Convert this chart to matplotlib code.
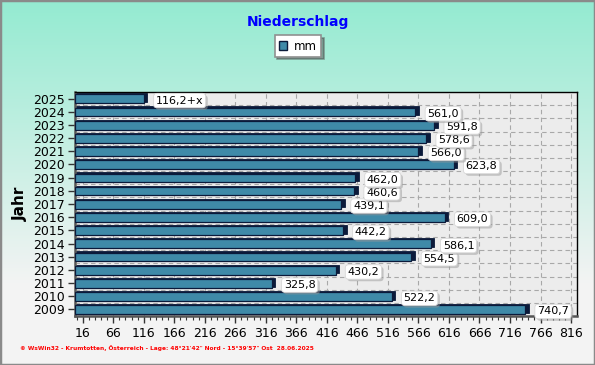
import matplotlib as mpl

mpl.use("Agg")

import matplotlib.patheffects as pe
import matplotlib.pyplot as plt
import numpy as np
from matplotlib.patches import Patch, Rectangle

# data
years = [2009, 2010, 2011, 2012, 2013, 2014, 2015, 2016, 2017,
         2018, 2019, 2020, 2021, 2022, 2023, 2024, 2025]
rain_mm = [740.7, 522.2, 325.8, 430.2, 554.5, 586.1, 442.2, 609.0, 439.1,
           460.6, 462.0, 623.8, 566.0, 578.6, 591.8, 561.0, 116.2]
value_labels = ["740,7", "522,2", "325,8", "430,2", "554,5", "586,1", "442,2",
                "609,0", "439,1", "460,6", "462,0", "623,8", "566,0", "578,6",
                "591,8", "561,0", "116,2+x"]
x_ticks = list(range(16, 817, 50))
footer = ("\u00a9 WsWin32 - Krumtotten, \u00d6sterreich - Lage: 48\u00b021'42\" Nord"
          " - 15\u00b039'57\" Ost  28.06.2025")

BAR = "#3f8aa8"
EDGE = "#0b1a3a"
X0, X1 = 3.4, 826

fig = plt.figure(figsize=(5.95, 3.65), dpi=100)

# background gradient (mint at top -> light grey at bottom)
bg = fig.add_axes([0, 0, 1, 1], zorder=-10)
top = np.array([0.58, 0.92, 0.82])
bot = np.array([0.955, 0.955, 0.955])
t = np.clip(np.linspace(0, 1, 365) / 0.78, 0, 1)[:, None]
grad = top * (1 - t) + bot * t
bg.imshow(grad[:, None, :], aspect="auto", extent=[0, 1, 0, 1])
bg.set_axis_off()
bg.add_patch(Rectangle((0, 0), 1, 1, transform=bg.transAxes, fill=False,
                       edgecolor="#8a8a8a", linewidth=2.5))

ax = fig.add_axes([0.126, 0.134, 0.844, 0.614])
ax.set_facecolor("#ececec")
y = np.arange(len(years))

# grid
for xv in x_ticks:
    ax.axvline(xv, color="#a8a8a8", linestyle=(0, (4, 3)), linewidth=0.8, zorder=1)
for yv in y[:-1] + 0.5:
    ax.axhline(yv, color="#a8a8a8", linestyle=(0, (4, 3)), linewidth=0.8, zorder=1)

# left wall strip
ax.add_patch(Rectangle((X0, -0.5), 4, 17, facecolor="#fff8cc", edgecolor="none", zorder=1.5))

h = 0.66
# 3D depth (dark back face)
ax.barh(y + 0.07, np.array(rain_mm) + 4 - X0, left=X0 + 2, height=h,
        color=EDGE, edgecolor=EDGE, linewidth=0.6, zorder=2)
ax.barh(y - 0.02, np.array(rain_mm) - X0, left=X0, height=h,
        color=BAR, edgecolor=EDGE, linewidth=0.9, zorder=3)

for yi, v, lab in zip(y, rain_mm, value_labels):
    an = ax.annotate(lab, (v, yi), xytext=(12, -2), textcoords="offset pixels",
                     ha="left", va="center", fontsize=8, color="black", zorder=5,
                     bbox=dict(boxstyle="round,pad=0.2,rounding_size=0.3",
                               facecolor="white", edgecolor="#d8d8d8", linewidth=0.6))
    an.get_bbox_patch().set_path_effects(
        [pe.SimplePatchShadow(offset=(1.5, -1.5), shadow_rgbFace="#9a9a9a", alpha=0.5),
         pe.Normal()])

ax.set_xlim(X0, X1)
ax.set_ylim(-0.5, 16.5)
ax.set_xticks(x_ticks)
ax.set_xticklabels([str(v) for v in x_ticks], fontsize=9)
ax.set_xticks(np.arange(6, 826, 10), minor=True)
ax.set_yticks(y)
ax.set_yticklabels([str(v) for v in years], fontsize=9)
ax.tick_params(axis="x", length=5, width=1, pad=3, color="#333333")
ax.tick_params(axis="x", which="minor", length=3, width=0.8, color="#333333")
ax.tick_params(axis="y", length=5, width=1, pad=2, color="#333333")
for s in ax.spines.values():
    s.set_color("black")
    s.set_linewidth(1.0)
ax.spines["left"].set_linewidth(1.8)
ax.spines["bottom"].set_linewidth(1.8)
ax.spines["left"].set_color("#555555")
ax.spines["bottom"].set_color("#555555")

ax.set_ylabel("Jahr", fontsize=11, fontweight="bold", labelpad=4)

fig.text(0.5, 1 - 22 / 365, "Niederschlag", ha="center", va="center",
         color="#0000ff", fontsize=10, fontweight="bold")

leg = fig.legend(handles=[Patch(facecolor=BAR, edgecolor=EDGE, label="mm")],
                 loc="center", bbox_to_anchor=(298 / 595, 1 - 46 / 365),
                 fontsize=8.5, frameon=True, fancybox=False, shadow=True,
                 handlelength=0.7, handleheight=0.7, handletextpad=0.6,
                 borderpad=0.35)
leg.get_frame().set_edgecolor("#909090")
leg.get_frame().set_linewidth(1.2)

fig.text(20 / 595, 1 - 348 / 365, footer, ha="left", va="center",
         color="#ff0000", fontsize=4.2, fontweight="bold")

fig.savefig("out.png", dpi=100)
